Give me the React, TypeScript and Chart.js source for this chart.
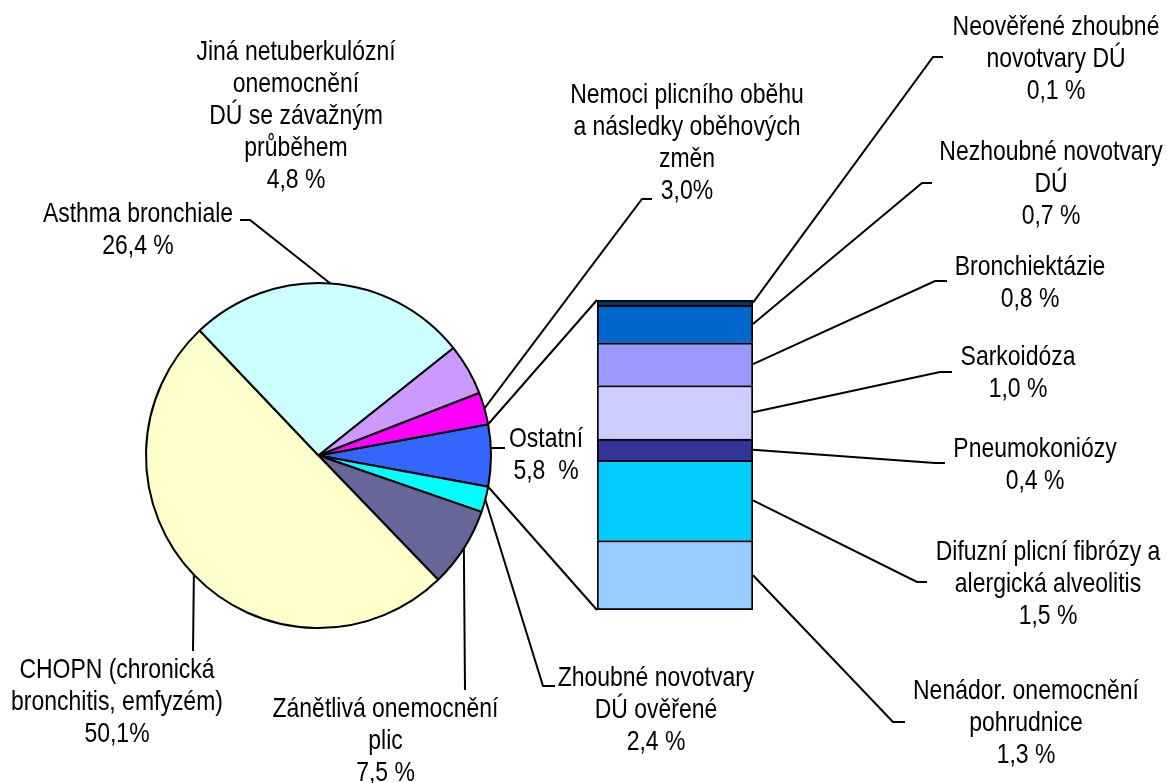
import React, { useEffect, useRef } from "react";
import { Chart, registerables } from "chart.js";

Chart.register(...registerables);

// ---------- Pie data (clockwise order, starting with the "Ostatní" slice) ----------
const pieCategories = [
  "Ostatní",
  "Zhoubné novotvary DÚ ověřené",
  "Zánětlivá onemocnění plic",
  "CHOPN (chronická bronchitis, emfyzém)",
  "Asthma bronchiale",
  "Jiná netuberkulózní onemocnění DÚ se závažným průběhem",
  "Nemoci plicního oběhu a následky oběhových změn",
];
const pieValues = [5.8, 2.4, 7.5, 50.1, 26.4, 4.8, 3.0];
const pieColors = ["#3366FF", "#00FFFF", "#666699", "#FFFFCC", "#CCFFFF", "#CC99FF", "#FF00FF"];
const pieLabelText = [
  ["Ostatní", "5,8  %"],
  ["Zhoubné novotvary", "DÚ ověřené", "2,4 %"],
  ["Zánětlivá onemocnění", "plic", "7,5 %"],
  ["CHOPN (chronická", "bronchitis, emfyzém)", "50,1%"],
  ["Asthma bronchiale", "26,4 %"],
  ["Jiná netuberkulózní", "onemocnění", "DÚ se závažným", "průběhem", "4,8 %"],
  ["Nemoci plicního oběhu", "a následky oběhových", "změn", "3,0%"],
];

// ---------- Bar data (stack from bottom to top) ----------
const barCategories = [
  "Nenádor. onemocnění pohrudnice",
  "Difuzní plicní fibrózy a alergická alveolitis",
  "Pneumokoniózy",
  "Sarkoidóza",
  "Bronchiektázie",
  "Nezhoubné novotvary DÚ",
  "Neověřené zhoubné novotvary DÚ",
];
const barValues = [1.3, 1.5, 0.4, 1.0, 0.8, 0.7, 0.1];
const barColors = ["#99CCFF", "#00CCFF", "#333399", "#CCCCFF", "#9999FF", "#0066CC", "#003366"];
const barLabelText = [
  ["Nenádor. onemocnění", "pohrudnice", "1,3 %"],
  ["Difuzní plicní fibrózy a", "alergická alveolitis", "1,5 %"],
  ["Pneumokoniózy", "0,4 %"],
  ["Sarkoidóza", "1,0 %"],
  ["Bronchiektázie", "0,8 %"],
  ["Nezhoubné novotvary", "DÚ", "0,7 %"],
  ["Neověřené zhoubné", "novotvary DÚ", "0,1 %"],
];

// ---------- Layout (label anchors and leader elbows) ----------
type Lay = { cx: number; y0: number; pts: number[][]; frac?: number };
const pieLabelLayout: Lay[] = [
  { cx: 546, y0: 447, pts: [[505, 448]], frac: 0.38 },
  { cx: 656, y0: 686, pts: [[543, 686], [555, 686]] },
  { cx: 385.5, y0: 717, pts: [[465, 690]] },
  { cx: 117, y0: 678, pts: [[193, 651]] },
  { cx: 138, y0: 222, pts: [[250, 220], [240, 220]] },
  { cx: 296, y0: 60, pts: [] },
  { cx: 687, y0: 103, pts: [[642, 199], [652, 199]] },
];
const barLabelLayout: Lay[] = [
  { cx: 1026, y0: 699, pts: [[893, 722], [905, 722]] },
  { cx: 1048, y0: 560, pts: [[917, 582], [927, 582]] },
  { cx: 1035, y0: 457, pts: [[935, 463], [945, 463]] },
  { cx: 1018, y0: 365, pts: [[940, 372], [952, 372]] },
  { cx: 1030, y0: 275, pts: [[935, 281], [947, 281]] },
  { cx: 1051, y0: 160, pts: [[922, 183], [932, 183]] },
  { cx: 1056, y0: 35, pts: [[933, 57], [943, 57]] },
];

const W = 1167;
const H = 783;
const LINE_H = 32;
const FONT = '28px "Liberation Sans", Arial, sans-serif';
const NARROW = 0.82;

function drawText(ctx: CanvasRenderingContext2D, lines: string[], cx: number, y0: number) {
  ctx.save();
  ctx.font = FONT;
  ctx.fillStyle = "#000";
  ctx.textAlign = "center";
  ctx.textBaseline = "alphabetic";
  lines.forEach((t, i) => {
    ctx.save();
    ctx.translate(cx, y0 + i * LINE_H);
    ctx.scale(NARROW, 1);
    ctx.fillText(t, 0, 0);
    ctx.restore();
  });
  ctx.restore();
}

function drawPoly(ctx: CanvasRenderingContext2D, pts: number[][]) {
  if (pts.length < 2) return;
  ctx.save();
  ctx.strokeStyle = "#000";
  ctx.lineWidth = 2;
  ctx.lineJoin = "miter";
  ctx.beginPath();
  ctx.moveTo(pts[0][0], pts[0][1]);
  for (let i = 1; i < pts.length; i++) ctx.lineTo(pts[i][0], pts[i][1]);
  ctx.stroke();
  ctx.restore();
}

export default function App() {
  const pieRef = useRef<HTMLCanvasElement | null>(null);
  const barRef = useRef<HTMLCanvasElement | null>(null);

  useEffect(() => {
    if (!pieRef.current || !barRef.current) return;

    const pieLabelsPlugin = {
      id: "pieLabels",
      afterDraw(chart: any) {
        const ctx = chart.ctx as CanvasRenderingContext2D;
        const meta = chart.getDatasetMeta(0);
        meta.data.forEach((arc: any, i: number) => {
          const p = arc.getProps(["x", "y", "startAngle", "endAngle", "outerRadius"], true);
          const lay = pieLabelLayout[i];
          const f = lay.frac ?? 0.5;
          const a = p.startAngle + f * (p.endAngle - p.startAngle);
          const sx = p.x + Math.cos(a) * p.outerRadius;
          const sy = p.y + Math.sin(a) * p.outerRadius;
          if (lay.pts.length) drawPoly(ctx, [[sx, sy], ...lay.pts]);
          drawText(ctx, pieLabelText[i], lay.cx, lay.y0);
        });
      },
    };

    const pie = new Chart(pieRef.current, {
      type: "pie",
      data: {
        labels: pieCategories,
        datasets: [
          {
            data: pieValues,
            backgroundColor: pieColors,
            borderColor: "#000",
            borderWidth: 2,
          },
        ],
      },
      options: {
        responsive: false,
        animation: false,
        events: [],
        rotation: 90 - (pieValues[0] * 3.6) / 2,
        layout: { padding: { left: 145, top: 282, right: W - 492, bottom: H - 629 } },
        plugins: { legend: { display: false }, tooltip: { enabled: false }, title: { display: false } },
      },
      plugins: [pieLabelsPlugin],
    } as any);

    const barLabelsPlugin = {
      id: "barLabels",
      afterDraw(chart: any) {
        const ctx = chart.ctx as CanvasRenderingContext2D;
        const els = barValues.map((_, i) => chart.getDatasetMeta(i).data[0].getProps(["x", "y", "base", "width"], true));
        // connectors from the "Ostatní" slice to the bar
        const arc = pie.getDatasetMeta(0).data[0] as any;
        const ap = arc.getProps(["x", "y", "startAngle", "endAngle", "outerRadius"], true);
        const top = els[els.length - 1];
        const bottom = els[0];
        drawPoly(ctx, [
          [ap.x + Math.cos(ap.startAngle) * ap.outerRadius, ap.y + Math.sin(ap.startAngle) * ap.outerRadius],
          [top.x - top.width / 2, top.y],
        ]);
        drawPoly(ctx, [
          [ap.x + Math.cos(ap.endAngle) * ap.outerRadius, ap.y + Math.sin(ap.endAngle) * ap.outerRadius],
          [bottom.x - bottom.width / 2, bottom.base],
        ]);
        els.forEach((e: any, i: number) => {
          const lay = barLabelLayout[i];
          const sx = e.x + e.width / 2;
          const sy = (e.y + e.base) / 2;
          drawPoly(ctx, [[sx, sy], ...lay.pts]);
          drawText(ctx, barLabelText[i], lay.cx, lay.y0);
        });
      },
    };

    const bar = new Chart(barRef.current, {
      type: "bar",
      data: {
        labels: [""],
        datasets: barValues.map((v, i) => ({
          label: barCategories[i],
          data: [v],
          backgroundColor: barColors[i],
          borderColor: "#000",
          borderWidth: 2,
          borderSkipped: i === 0 ? false : "start",
          categoryPercentage: 1,
          barPercentage: 1,
        })),
      },
      options: {
        responsive: false,
        animation: false,
        events: [],
        layout: { padding: { left: 597, right: W - 753, top: 300, bottom: H - 610 } },
        scales: {
          x: { stacked: true, display: false },
          y: { stacked: true, display: false, min: 0, max: 5.8 },
        },
        plugins: { legend: { display: false }, tooltip: { enabled: false }, title: { display: false } },
      },
      plugins: [barLabelsPlugin],
    } as any);

    return () => {
      bar.destroy();
      pie.destroy();
    };
  }, []);

  return (
    <div style={{ position: "absolute", left: 0, top: 0, width: W, height: H, background: "#fff", overflow: "hidden" }}>
      <canvas ref={pieRef} width={W} height={H} style={{ position: "absolute", left: 0, top: 0, display: "block" }} />
      <canvas ref={barRef} width={W} height={H} style={{ position: "absolute", left: 0, top: 0, display: "block" }} />
    </div>
  );
}
